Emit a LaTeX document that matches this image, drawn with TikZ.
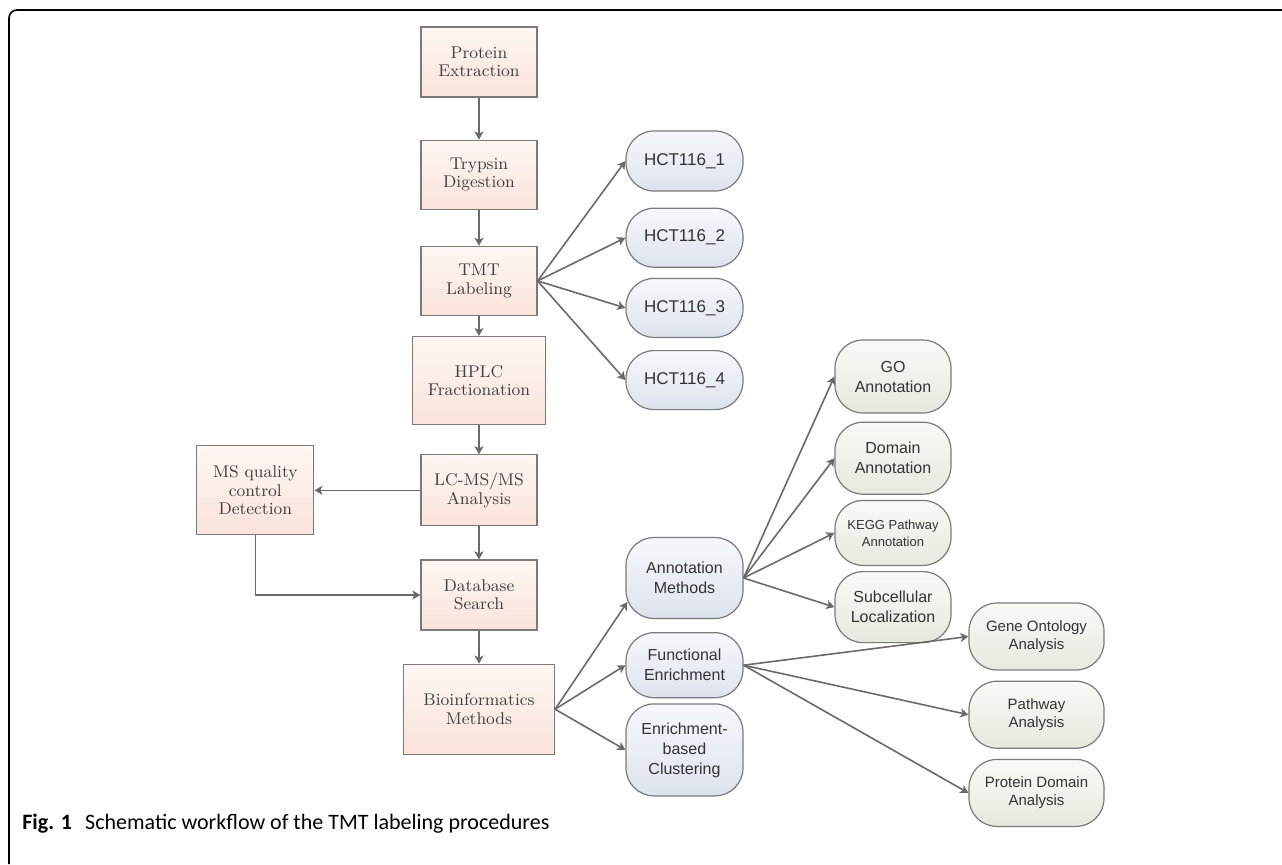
\documentclass[tikz,border=0pt]{standalone}
\usepackage{fontspec}
\usepackage{tikz}
\usetikzlibrary{arrows.meta,positioning}
\newfontfamily\arialsf{Liberation Sans}
\newfontfamily\capfont{Carlito}
\definecolor{boxline}{HTML}{7A7A7A}
\definecolor{arrgray}{HTML}{6A6A6A}
\definecolor{pinktop}{HTML}{FEF7F4}
\definecolor{pinkbot}{HTML}{FAE3DA}
\definecolor{bluetop}{HTML}{F6F8FB}
\definecolor{bluebot}{HTML}{DDE3EE}
\definecolor{greentop}{HTML}{F9FAF6}
\definecolor{greenbot}{HTML}{E5E9DE}
\tikzset{
  stepbox/.style={draw=boxline, line width=0.6pt, top color=pinktop, bottom color=pinkbot, align=center, inner sep=2pt, minimum width=58pt, font=\fontsize{8.5}{9.2}\selectfont, text=black!75},
  pill/.style={draw=boxline, line width=0.6pt, rounded corners=14pt, align=center, inner sep=2pt, minimum width=58pt, font=\arialsf\fontsize{8}{10}\selectfont, text=black!80},
  bluepill/.style={pill, top color=bluetop, bottom color=bluebot},
  greenpill/.style={pill, top color=greentop, bottom color=greenbot},
  arr/.style={-{Stealth[length=4pt,width=4.5pt,inset=1pt]}, draw=arrgray, line width=0.8pt},
  frame/.style={line width=0.8pt, rounded corners=4pt}
}
\begin{document}
\begin{tikzpicture}[x=0.5pt, y=-0.5pt]
\useasboundingbox (0,0) rectangle (1282,864);
\draw[frame] (1282,10) -- (9,10) -- (9,864);

% main workflow column
\node[stepbox, minimum height=35pt] (pe) at (479,62) {Protein\\Extraction};
\node[stepbox, minimum height=34.5pt, below=21pt of pe] (td) {Trypsin\\Digestion};
\node[stepbox, minimum height=34.5pt, below=18pt of td] (tmt) {TMT\\Labeling};
\node[stepbox, minimum width=66.5pt, minimum height=44pt, below=10pt of tmt] (hplc) {HPLC\\Fractionation};
\node[stepbox, minimum height=35.5pt, below=14.5pt of hplc] (lcms) {LC-MS/MS\\Analysis};
\node[stepbox, minimum height=35pt, below=16.5pt of lcms] (dbs) {Database\\Search};
\node[stepbox, minimum width=75.5pt, minimum height=45pt, below=16.5pt of dbs] (bio) {Bioinformatics\\Methods};
\node[stepbox, minimum width=58.5pt, minimum height=44.5pt, left=53pt of lcms] (msq) {MS quality\\control\\Detection};

\draw[arr] (pe) -- (td);
\draw[arr] (td) -- (tmt);
\draw[arr] (tmt) -- (hplc);
\draw[arr] (hplc) -- (lcms);
\draw[arr] (lcms) -- (dbs);
\draw[arr] (dbs) -- (bio);
\draw[arr] (lcms) -- (msq);
\draw[arr] (msq.south) |- (dbs.west);

% labelled samples
\node[bluepill, minimum width=58.5pt, minimum height=30pt, font=\arialsf\fontsize{8.5}{10}\selectfont] (h1) at (684.5,161) {HCT116\_1};
\node[bluepill, minimum width=58.5pt, minimum height=29.5pt, font=\arialsf\fontsize{8.5}{10}\selectfont, below=8pt of h1] (h2) {HCT116\_2};
\node[bluepill, minimum width=58.5pt, minimum height=29.5pt, font=\arialsf\fontsize{8.5}{10}\selectfont, below=5pt of h2] (h3) {HCT116\_3};
\node[bluepill, minimum width=58.5pt, minimum height=29.5pt, font=\arialsf\fontsize{8.5}{10}\selectfont, below=6pt of h3] (h4) {HCT116\_4};
\foreach \n in {h1,h2,h3,h4}
  \draw[arr] (tmt.east) -- (\n.west);

% bioinformatics branches
\node[bluepill, minimum width=58.5pt, minimum height=40.5pt] (ann) at (684.5,578) {Annotation\\Methods};
\node[bluepill, minimum width=58.5pt, minimum height=32.5pt, below=6.5pt of ann] (fe) {Functional\\Enrichment};
\node[bluepill, minimum width=58.5pt, minimum height=46pt, below=2.5pt of fe] (ebc) {Enrichment-\\based\\Clustering};
\draw[arr] (bio.east) -- ([xshift=1pt,yshift=-12pt]ann.west);
\draw[arr] (bio.east) -- (fe.west);
\draw[arr] (bio.east) -- (ebc.west);

% annotation
\node[greenpill, minimum height=36.5pt] (go) at (893,376.5) {GO\\Annotation};
\node[greenpill, minimum height=36pt, below=4pt of go] (da) {Domain\\Annotation};
\node[greenpill, minimum height=32.5pt, below=2.5pt of da, font=\arialsf\fontsize{6.5}{8.5}\selectfont] (kegg) {KEGG Pathway\\Annotation};
\node[greenpill, minimum height=35.5pt, below=2.5pt of kegg] (sub) {Subcellular\\Localization};
\foreach \n in {go,da,kegg,sub}
  \draw[arr] (ann.east) -- (\n.west);

% enrichment
\node[greenpill, minimum width=67.5pt, minimum height=33.5pt, font=\arialsf\fontsize{7.5}{9}\selectfont] (goa) at (1036.5,636.5) {Gene Ontology\\Analysis};
\node[greenpill, minimum width=67.5pt, minimum height=33.5pt, font=\arialsf\fontsize{7.5}{9}\selectfont, below=5pt of goa] (pa) {Pathway\\Analysis};
\node[greenpill, minimum width=67.5pt, minimum height=33.5pt, font=\arialsf\fontsize{7.5}{9}\selectfont, below=5pt of pa] (pda) {Protein Domain\\Analysis};
\foreach \n in {goa,pa,pda}
  \draw[arr] (fe.east) -- (\n.west);

\node[anchor=base west, inner sep=0pt, font=\capfont\fontsize{11}{12}\selectfont] (cap) at (22,829) {\textbf{Fig. 1}\hspace{0.6em}Schematic workflow of the TMT labeling procedures};
\end{tikzpicture}
\end{document}
